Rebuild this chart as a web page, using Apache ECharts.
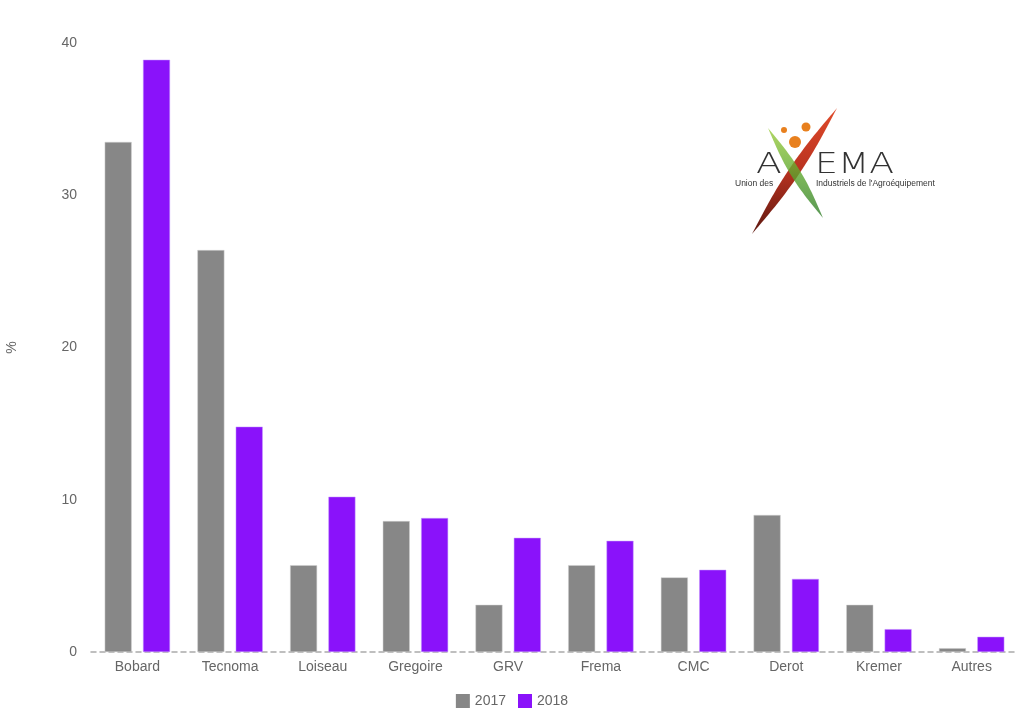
<!DOCTYPE html>
<html><head><meta charset="utf-8">
<script src="https://cdn.jsdelivr.net/npm/echarts@6/dist/echarts.min.js"></script>
<style>html,body{margin:0;padding:0;background:#fff}#c{width:1024px;height:710px}</style>
</head><body><div id="c"></div>
<script>
const categories = ['Bobard','Tecnoma','Loiseau','Gregoire','GRV','Frema','CMC','Derot','Kremer','Autres'];
const values2017 = [33.5, 26.4, 5.7, 8.6, 3.1, 5.7, 4.9, 9.0, 3.1, 0.25];
const values2018 = [38.9, 14.8, 10.2, 8.8, 7.5, 7.3, 5.4, 4.8, 1.5, 1.0];
const seriesNames = ['2017','2018'];

function lens(x1,y1,x2,y2,w,n){
  const dx=x2-x1, dy=y2-y1, L=Math.hypot(dx,dy), nx=-dy/L, ny=dx/L;
  const a=[], b=[];
  for(let i=0;i<=n;i++){const t=i/n, h=Math.sin(Math.PI*t)*w/2; const px=x1+dx*t, py=y1+dy*t;
    a.push([px+nx*h,py+ny*h]); b.unshift([px-nx*h,py-ny*h]);}
  return a.concat(b.slice(1,-1));
}
const chart = echarts.init(document.getElementById('c'), null, {renderer:'canvas'});
chart.setOption({
  animation:false,
  textStyle:{fontFamily:'Liberation Sans, Arial, sans-serif'},
  grid:{left:91,right:6,top:43,bottom:58,containLabel:false,outerBoundsMode:'none'},
  legend:{top:689,left:'center',itemWidth:14,itemHeight:14,itemGap:12,icon:'rect',
    itemStyle:{borderWidth:0},
    textStyle:{color:'#666',fontSize:14}},
  xAxis:{type:'category',data:categories,
    axisLine:{lineStyle:{color:'#aaa',type:[5,4],width:1.5}},axisTick:{show:false},
    axisLabel:{color:'#666',fontSize:14,margin:8}},
  yAxis:{type:'value',min:0,max:40,interval:10,name:'%',nameLocation:'middle',nameGap:72,
    nameTextStyle:{color:'#666',fontSize:14},
    axisLine:{show:false},axisTick:{show:false},splitLine:{show:false},
    axisLabel:{color:'#666',fontSize:14,margin:14}},
  series:[
    {name:seriesNames[0],type:'bar',data:values2017,barWidth:27,barGap:'42%',
      itemStyle:{color:'#878787',borderColor:'#d0d0d0',borderWidth:0.5}},
    {name:seriesNames[1],type:'bar',data:values2018,barWidth:27,
      itemStyle:{color:'#8a12fa',borderColor:'#c79cff',borderWidth:0.5}}
  ],
  graphic:[
    {type:'text',x:756,y:151,scaleX:1.3,style:{text:'A',fontSize:29,fill:'#333',fontFamily:'DejaVu Sans, sans-serif',fontWeight:'lighter'},z:9},
    {type:'text',x:815,y:151,scaleX:1.25,style:{text:'EMA',fontSize:29,fill:'#333',fontFamily:'DejaVu Sans, sans-serif',fontWeight:'lighter'},z:9},
    {type:'polygon',shape:{points:lens(837,108,752,234,11,30)},style:{fill:new echarts.graphic.LinearGradient(0,0,0,1,[{offset:0,color:'#e04a2a'},{offset:0.5,color:'#b83220'},{offset:1,color:'#5e1810'}])},z:10},
    {type:'polygon',shape:{points:lens(768,128,823,218,10,30)},style:{fill:new echarts.graphic.LinearGradient(0,0,0,1,[{offset:0,color:'#9ccc3c'},{offset:0.5,color:'#5ea82e'},{offset:1,color:'#2f7d2a'}]),opacity:0.8},z:11},
    {type:'circle',shape:{cx:784,cy:130,r:3},style:{fill:'#e8801e'},z:12},
    {type:'circle',shape:{cx:806,cy:127,r:4.5},style:{fill:'#e8801e'},z:12},
    {type:'circle',shape:{cx:795,cy:142,r:6},style:{fill:'#e8801e'},z:12},
    {type:'text',x:735,y:179,style:{text:'Union des',fontSize:8.5,fill:'#333'},z:12},
    {type:'text',x:816,y:179,style:{text:"Industriels de l'Agroéquipement",fontSize:8.5,fill:'#333'},z:12}
  ]
});
</script></body></html>
